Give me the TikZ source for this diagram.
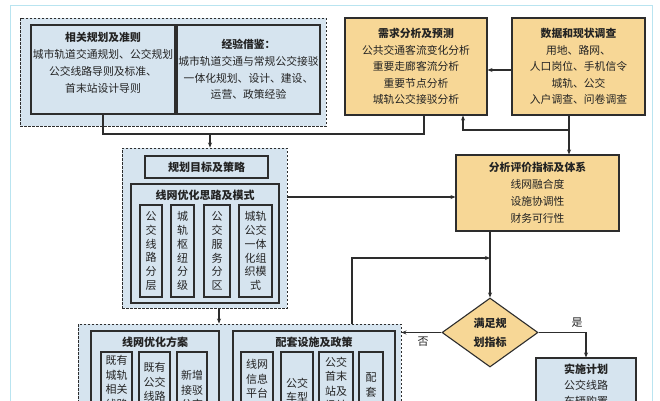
\documentclass[tikz,border=0pt]{standalone}
\usepackage{fontspec}
\setmainfont{Noto Sans CJK SC}
\usetikzlibrary{shapes.geometric,arrows.meta}
\definecolor{bluef}{RGB}{214,228,239}
\definecolor{tanf}{RGB}{247,215,150}
\definecolor{linec}{RGB}{45,45,45}
\definecolor{framec}{RGB}{185,228,240}
\definecolor{txtc}{RGB}{35,35,35}
\begin{document}
\begin{tikzpicture}[x=1pt,y=-1pt,
  box/.style={draw=linec,line width=1.1pt,inner sep=0pt,align=center,text=txtc},
  bluebox/.style={box,fill=bluef},
  tanbox/.style={box,fill=tanf},
  grp/.style={draw=linec,line width=0.9pt,dash pattern=on 2.5pt off 1.5pt,fill=bluef,inner sep=0pt},
  conn/.style={draw=linec,line width=1.1pt},
  arr/.style={conn,-{Stealth[length=5pt,width=4pt]}},
  txt/.style={inner sep=0pt,align=center,text=txtc},
  fa/.style={font=\fontsize{10.8}{17}\selectfont},
  fb/.style={font=\fontsize{10.8}{16.6}\selectfont},
  fv/.style={font=\fontsize{11}{13.8}\selectfont},
  fs/.style={font=\fontsize{11}{14.5}\selectfont},
  fbold/.style={font=\fontsize{11}{13}\selectfont\bfseries},
]
\useasboundingbox (0,0) rectangle (660,400);
\clip (0,0) rectangle (660,400);
\fill[white] (0,0) rectangle (660,400);
% outer frame
\draw[framec,line width=1pt] (10,5) rectangle (652,430);

% top-left group
\node[grp,minimum width=306pt,minimum height=108pt] (gA) at (173,72) {};
\node[bluebox,minimum width=144pt,minimum height=89pt] (b1) at (103,69.5) {};
\node[txt,fa] (b1t) at (103,62.5) {\textbf{相关规划及准则}\\城市轨道交通规划、公交规划\\公交线路导则及标准、\\首末站设计导则};
\node[bluebox,fb,minimum width=143pt,minimum height=89pt] (b2) at (248.5,69.5) {\textbf{经验借鉴：}\\城市轨道交通与常规公交接驳\\一体化规划、设计、建设、\\运营、政策经验};

% demand and data
\node[tanbox,fb,minimum width=142pt,minimum height=97pt] (dem) at (416,66.5) {\textbf{需求分析及预测}\\公共交通客流变化分析\\重要走廊客流分析\\重要节点分析\\城轨公交接驳分析};
\node[tanbox,fb,minimum width=133pt,minimum height=97pt] (dat) at (578.5,66.5) {\textbf{数据和现状调查}\\用地、路网、\\人口岗位、手机信令\\城轨、公交\\入户调查、问卷调查};

% analysis
\node[tanbox,fa,minimum width=163pt,minimum height=76pt] (ana) at (537.5,193) {\textbf{分析评价指标及体系}\\线网融合度\\设施协调性\\财务可行性};

% planning group
\node[grp,minimum width=165pt,minimum height=160pt] (pg) at (204.5,228) {};
\node[bluebox,fbold,minimum width=123pt,minimum height=22pt] (goal) at (206.5,167) {规划目标及策略};
\node[bluebox,minimum width=148pt,minimum height=119pt] (idea) at (205,243.5) {};
\node[txt,fbold] (ideat) at (205,195) {线网优化思路及模式};
\node[bluebox,fv,minimum width=22pt,minimum height=92pt] (v1) at (151,251) {公\\交\\线\\路\\分\\层};
\node[bluebox,fv,minimum width=23pt,minimum height=92pt] (v2) at (182.5,251) {城\\轨\\枢\\纽\\分\\级};
\node[bluebox,fv,minimum width=26pt,minimum height=92pt] (v3) at (217,251) {公\\交\\服\\务\\分\\区};
\node[bluebox,fv,minimum width=33pt,minimum height=92pt] (v4) at (255.5,251) {城轨\\公交\\一体\\化组\\织模\\式};

% diamond
\node[diamond,draw=linec,line width=1.1pt,fill=tanf,minimum width=96pt,minimum height=69pt,inner sep=0pt,align=center,text=txtc,font=\fontsize{11}{19}\selectfont\bfseries] (dm) at (490,332.5) {满足规\\划指标};

% implementation
\node[bluebox,minimum width=100pt,minimum height=72pt] (imp) at (586,394) {};
\node[txt,font=\fontsize{11}{16}\selectfont,anchor=north] (impt) at (586,363.5) {\textbf{实施计划}\\公交线路\\车辆购置};

% bottom group
\node[grp,minimum width=323pt,minimum height=106pt] (bg) at (239.5,377) {};
\node[bluebox,minimum width=128pt,minimum height=99pt] (plan) at (155,380.5) {};
\node[txt,fbold] (plant) at (155,342) {线网优化方案};
\node[bluebox,minimum width=31pt,minimum height=78pt] (sa) at (116.5,391) {};
\node[bluebox,minimum width=31pt,minimum height=78pt] (sb) at (154.5,391) {};
\node[bluebox,minimum width=30pt,minimum height=78pt] (sc) at (192,391) {};
\node[txt,fs,anchor=north] (sat) at (116.5,355.5) {既有\\城轨\\相关\\线路};
\node[txt,fs,anchor=north] (sbt) at (154.5,362.5) {既有\\公交\\线路};
\node[txt,fs,anchor=north] (sct) at (192,370.5) {新增\\接驳\\公交};
\node[bluebox,minimum width=162pt,minimum height=99pt] (pol) at (314,380.5) {};
\node[txt,fbold] (polt) at (314,342) {配套设施及政策};
\node[bluebox,minimum width=32pt,minimum height=78pt] (sd) at (257,391) {};
\node[bluebox,minimum width=32pt,minimum height=78pt] (se) at (297,391) {};
\node[bluebox,minimum width=34pt,minimum height=78pt] (sf) at (336,391) {};
\node[bluebox,minimum width=24pt,minimum height=78pt] (sg) at (371,391) {};
\node[txt,fs,anchor=north] (sdt) at (257,359.5) {线网\\信息\\平台};
\node[txt,fs,anchor=north] (set) at (297,377.5) {公交\\车型};
\node[txt,fs,anchor=north] (sft) at (336,356.5) {公交\\首末\\站及\\场站};
\node[txt,fs,anchor=north] (sgt) at (371,372.5) {配\\套};

% junction coordinates
\coordinate (jB) at (424,134);
\coordinate (jC) at (210,134);
\coordinate (jD) at (569,130);
\coordinate (jE) at (463,130);
\coordinate (jF) at (287,197);
\coordinate (jG) at (352,258);
\coordinate (jH) at (219,310);

% connectors
\draw[conn] (b1.south) |- (jB) -- (jB |- dem.south);
\draw[arr] (jC) -- (jC |- pg.north);
\draw[arr] ([yshift=-3.5pt]dat.west) -- ([yshift=-3.5pt]dem.east);
\draw[arr] (jD |- dat.south) -- (jD |- ana.north);
\draw[arr] (jD) -| (jE |- dem.south);
\draw[arr] (pg.east |- jF) -- (ana.west |- jF);
\draw[arr] (ana.south -| dm.north) -- (dm.north);
\draw[arr] (jG |- bg.north) -- (jG) -- (dm.north |- jG);
\draw[arr] (jH |- pg.south) -- (jH |- bg.north);
\draw[arr] (dm.west) -- (dm.west -| bg.east);
\draw[arr] (dm.east) -| (imp.north);
\node[txt,font=\fontsize{11}{13}\selectfont] (no) at (423,342) {否};
\node[txt,font=\fontsize{11}{13}\selectfont] (yes) at (577,323) {是};
\end{tikzpicture}
\end{document}
